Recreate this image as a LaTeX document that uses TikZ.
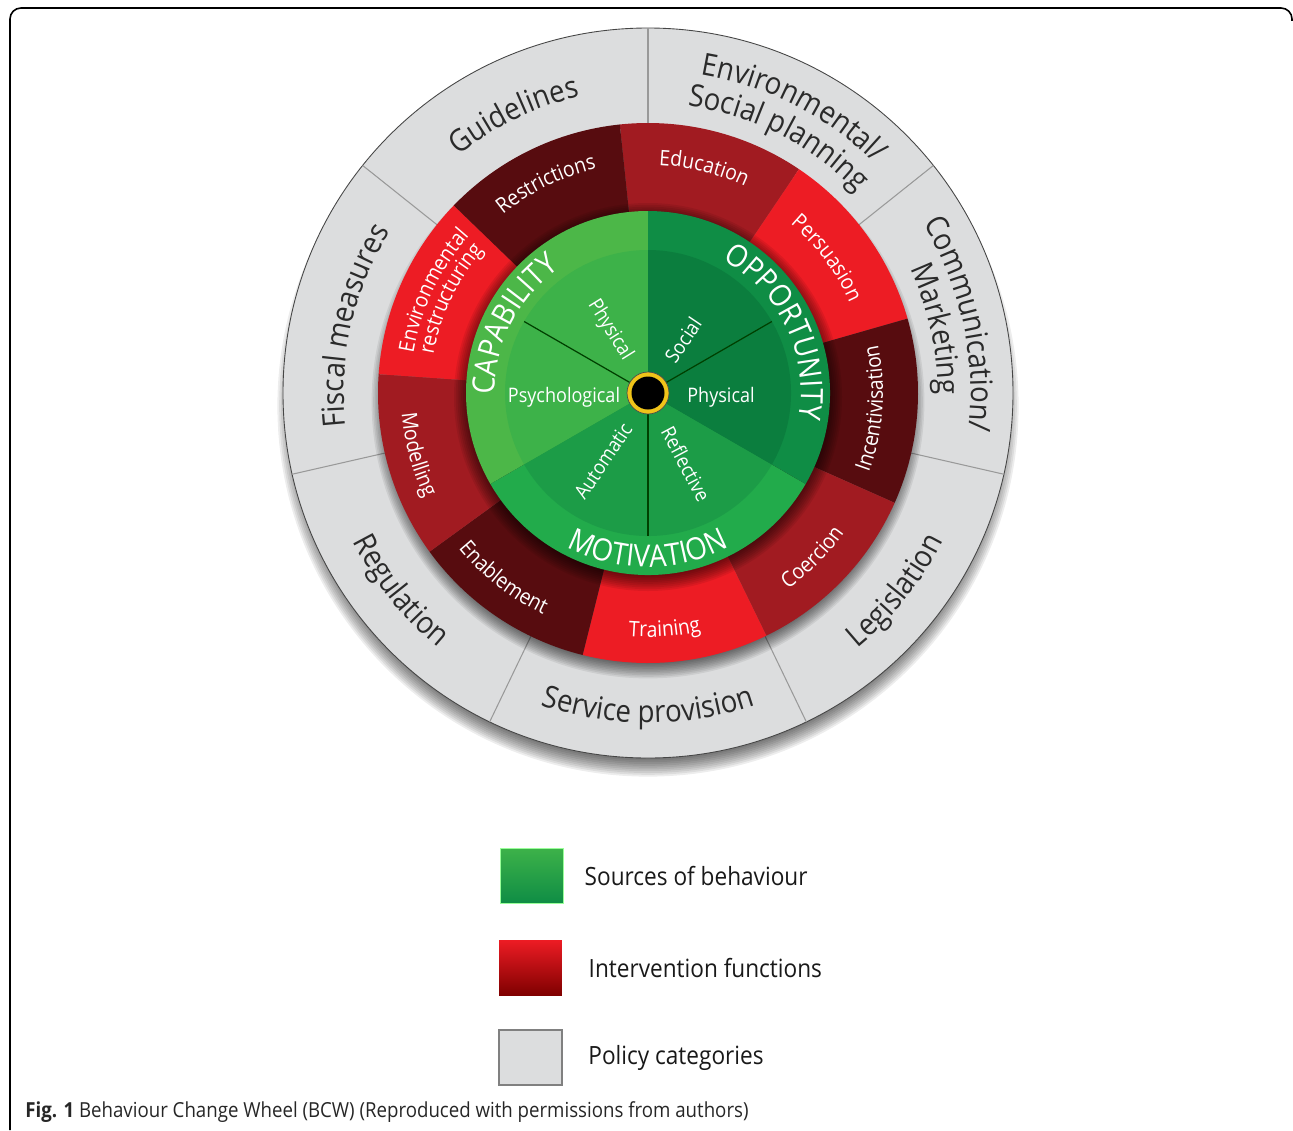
\documentclass[tikz,border=0pt]{standalone}
\usepackage{fontspec}
\setmainfont{Open Sans}
\newfontfamily\wheelfont[FakeStretch=0.9]{Open Sans}
\usetikzlibrary{decorations.text,positioning}

\definecolor{polgray}{HTML}{DCDDDE}
\definecolor{poltext}{HTML}{2A2A2A}
\definecolor{redbright}{HTML}{ED1C24}
\definecolor{redmid}{HTML}{A11B21}
\definecolor{reddark}{HTML}{570C0F}
\definecolor{capband}{HTML}{4CB748}
\definecolor{capin}{HTML}{3DB249}
\definecolor{oppband}{HTML}{0F8D45}
\definecolor{oppin}{HTML}{0B7E3E}
\definecolor{motband}{HTML}{22AB4B}
\definecolor{motin}{HTML}{1C9C47}
\definecolor{hubgold}{HTML}{F0C419}

\newcommand{\polfont}{\wheelfont\fontsize{17.5}{17.5}\selectfont\color{poltext}}
\newcommand{\funcfont}{\wheelfont\fontsize{12.2}{12.2}\selectfont\color{white}}
\newcommand{\srcfont}{\wheelfont\fontsize{17.5}{17.5}\selectfont\color{white}}

\tikzset{
  arctext/.style={decorate, decoration={text along path, text align=center, text={#1}}},
  divider/.style={draw=gray!80, line width=0.6pt},
  spoke/.style={draw=black!75!green, line width=0.7pt},
  subsrc/.style={font=\wheelfont\fontsize{11.4}{11.4}\selectfont, text=white, inner sep=0pt},
  legbox/.style={minimum width=1.26cm, minimum height=1.1cm, inner sep=0pt},
  legtext/.style={font=\wheelfont\fontsize{14.3}{14.3}\selectfont, text=black!90, inner sep=0pt},
}

\begin{document}
\begin{tikzpicture}[x=0.02cm, y=0.02cm]
\useasboundingbox (-648,-737) rectangle (645,393);
\draw[line width=0.9pt, rounded corners=0.22cm] (-638,-737) -- (-638,385) -- (644,385) -- (644,372);

% policy categories
\foreach \k in {0,...,12}
  \fill[black, opacity=0.07] (0,-13) circle ({349+1.8*\k});
\fill[polgray] (0,0) circle (365);
\draw[gray!55!black, line width=0.5pt] (0,0) circle (365);
\foreach \a in {90,38.57,-12.86,-64.29,-115.71,-167.14,141.43}
  \draw[divider] (\a:270) -- (\a:365);
\foreach \k in {0,...,9}
  \fill[black, opacity=0.07] (0,-9) circle ({262+1.6*\k});

% intervention functions
\foreach \a/\c in {96/redmid,56/redbright,16/reddark,-24/redmid,-64/redbright,-104/reddark,-144/redmid,176/redbright,136/reddark}
  \fill[\c] (0,0) -- (\a:270) arc (\a:\a-40:270) -- cycle;
\foreach \k in {0,...,10}
  \fill[black, opacity=0.075] (0,-4) circle ({176+1.8*\k});

% sources of behaviour
\fill[capband] (0,0) -- (90:182) arc (90:210:182) -- cycle;
\fill[motband] (0,0) -- (210:182) arc (210:330:182) -- cycle;
\fill[oppband] (0,0) -- (-30:182) arc (-30:90:182) -- cycle;
\fill[capin] (0,0) -- (90:143) arc (90:210:143) -- cycle;
\fill[motin] (0,0) -- (210:143) arc (210:330:143) -- cycle;
\fill[oppin] (0,0) -- (-30:143) arc (-30:90:143) -- cycle;
\foreach \a in {150,30,270}
  \draw[spoke] (0,0) -- (\a:143);
\fill[hubgold] (0,0) circle (21);
\draw[black!70, line width=0.4pt] (0,0) circle (21);
\fill[black] (0,0) circle (16.5);

\node[subsrc] (psych) at (-84,-4) {Psychological};
\node[subsrc] (physopp) at (73,-4) {Physical};
\node[subsrc, rotate=-58] (physcap) at (-38,63) {Physical};
\node[subsrc, rotate=56] (social) at (35,53) {Social};
\node[subsrc, rotate=56] (auto) at (-45,-68) {Automatic};
\node[subsrc, rotate=-62] (refl) at (38,-71) {Reflective};

\path[arctext={|\srcfont|CAPABILITY}] (213:153) arc (213:93:153);
\path[arctext={|\srcfont|OPPORTUNITY}] (85.5:153) arc (85.5:-34.5:153);
\path[arctext={|\srcfont|MOTIVATION}] (-150:174) arc (-150:-30:174);

\path[arctext={|\funcfont|Education}] (106:228) arc (106:46:228);
\path[arctext={|\funcfont|Persuasion}] (67:221) arc (67:7:221);
\path[arctext={|\funcfont|Incentivisation}] (-34:235) arc (-34:26:235);
\path[arctext={|\funcfont|Coercion}] (-75:241) arc (-75:-15:241);
\path[arctext={|\funcfont|Training}] (-116:244) arc (-116:-56:244);
\path[arctext={|\funcfont|Enablement}] (-158:245) arc (-158:-98:245);
\path[arctext={|\funcfont|Modelling}] (-195:247) arc (-195:-135:247);
\path[arctext={|\funcfont|Environmental}] (184.5:238) arc (184.5:124.5:238);
\path[arctext={|\funcfont|restructuring}] (184.5:218) arc (184.5:124.5:218);
\path[arctext={|\funcfont|Restrictions}] (146:230) arc (146:86:230);

\path[arctext={|\polfont|Guidelines}] (155.7:304) arc (155.7:75.7:304);
\path[arctext={|\polfont|Environmental/}] (103:323) arc (103:23:323);
\path[arctext={|\polfont|Social planning}] (103:290) arc (103:23:290);
\path[arctext={|\polfont|Communication/}] (52.5:323) arc (52.5:-27.5:323);
\path[arctext={|\polfont|Marketing}] (52.5:290) arc (52.5:-27.5:290);
\path[arctext={|\polfont|Legislation}] (-78.6:330) arc (-78.6:1.4:330);
\path[arctext={|\polfont|Service provision}] (-130:330) arc (-130:-50:330);
\path[arctext={|\polfont|Regulation}] (-181.4:330) arc (-181.4:-101.4:330);
\path[arctext={|\polfont|Fiscal measures}] (207.1:304) arc (207.1:127.1:304);

% legend
\node[legbox, draw=green!40!white, top color=capin, bottom color=oppband] (srcbox) at (-116.5,-482.5) {};
\node[legbox, top color=redbright, bottom color=red!50!black] (funcbox) at (-117.5,-574.5) {};
\node[legbox, fill=polgray, draw=gray, line width=1.2pt] (polbox) at (-117.5,-664.5) {};
\node[legtext, right=0.42cm of srcbox] (srclabel) {Sources of behaviour};
\node[legtext, right=0.52cm of funcbox] (funclabel) {Intervention functions};
\node[legtext, right=0.5cm of polbox] (pollabel) {Policy categories};

\node[anchor=west, inner sep=0pt, font=\wheelfont\fontsize{11.8}{12}\selectfont, text=black!85] (caption) at (-623,-719)
  {\textbf{Fig. 1} Behaviour Change Wheel (BCW) (Reproduced with permissions from authors)};
\end{tikzpicture}
\end{document}
